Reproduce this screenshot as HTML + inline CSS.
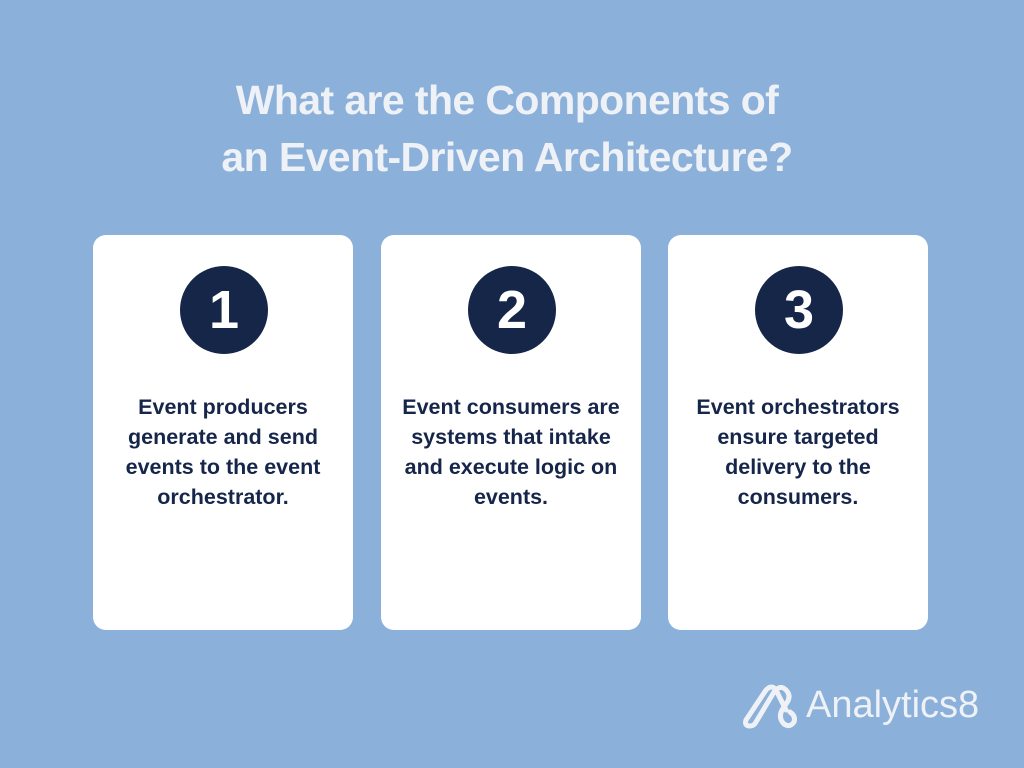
<!DOCTYPE html>
<html><head><meta charset="utf-8"><style>
body{margin:0;width:1024px;height:768px;background:#8bb0d9;font-family:"Liberation Sans",sans-serif;position:relative;overflow:hidden}
.title{position:absolute;left:0;width:1014px;top:72px;text-align:center;color:#eef1f6;font-weight:bold;font-size:41px;line-height:57px;letter-spacing:-0.6px}
.card{position:absolute;top:235px;width:260px;height:395px;background:#fff;border-radius:13px}
.circ{position:absolute;left:87px;top:31px;width:88px;height:88px;border-radius:50%;background:#162649;color:#fff;font-weight:bold;font-size:54px;line-height:88px;text-align:center}
.txt{position:absolute;top:157px;left:0;right:0;text-align:center;color:#16264a;font-weight:bold;font-size:21.5px;line-height:30px}
.logo{position:absolute;color:#eef1f6;font-size:38px;}
</style></head><body>
<div class="title">What are the Components of<br>an Event-Driven Architecture?</div>
<div class="card" style="left:93px"><div class="circ">1</div><div class="txt">Event producers<br>generate and send<br>events to the event<br>orchestrator.</div></div>
<div class="card" style="left:381px"><div class="circ">2</div><div class="txt">Event consumers are<br>systems that intake<br>and execute logic on<br>events.</div></div>
<div class="card" style="left:668px"><div class="circ">3</div><div class="txt">Event orchestrators<br>ensure targeted<br>delivery to the<br>consumers.</div></div>
<svg style="position:absolute;left:740px;top:682px" width="60" height="48" viewBox="0 0 60 48" fill="none" stroke="#eef1f6" stroke-width="5" stroke-linecap="round">
<path d="M6 38 L26 8 Q32 2 36 8 L46 28"/>
<path d="M6 38 Q4 44 10 44 Q14 44 16 40 L34 10 Q40 2 46 8 Q52 14 46 22 L42 28 Q38 36 44 42 Q50 46 54 40 Q56 34 50 30"/>
</svg>
<div class="logo" style="left:806px;top:684px">Analytics8</div>
</body></html>
